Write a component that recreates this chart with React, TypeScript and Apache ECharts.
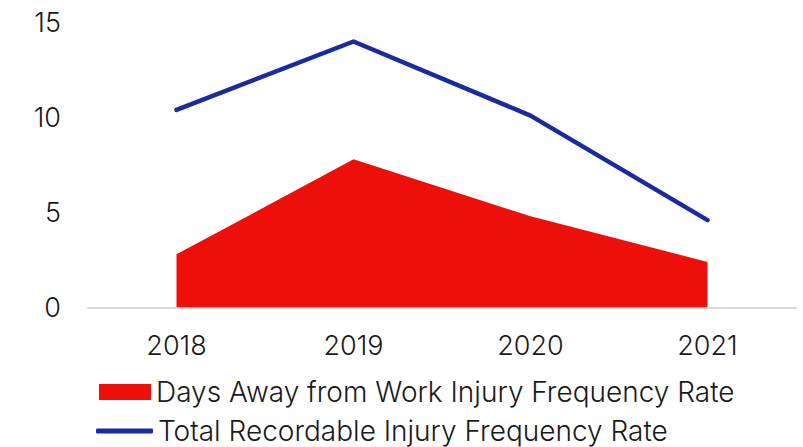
import React, { useEffect, useRef } from "react";
import * as echarts from "echarts";

const years = ["2018", "2019", "2020", "2021"];
const daysAwayRate = [2.8, 7.8, 4.8, 2.4];
const totalRecordableRate = [10.4, 14.0, 10.1, 4.6];
const yTicks = { min: 0, max: 15, interval: 5 };

const RED = "#ee0e0a";
const BLUE = "#1b2a9e";
const FONT = "Inter";
const TEXT = "#1a1a1a";
const FS_LEGEND = 28;
const FS_AXIS = 27;

export default function App() {
  const ref = useRef<HTMLDivElement>(null);
  useEffect(() => {
    if (!ref.current) return;
    const chart = echarts.init(ref.current, undefined, { renderer: "svg" });
    const nameA = "Days Away from Work Injury Frequency Rate";
    const nameB = "Total Recordable Injury Frequency Rate";
    chart.setOption({
      animation: false,
      textStyle: { fontFamily: FONT },
      grid: { left: 88, right: 7, top: 22.5, height: 285, containLabel: false },
      legend: [
        {
          data: [{ name: nameA, icon: "rect" }],
          left: 99,
          top: 378,
          padding: 0,
          itemWidth: 52,
          itemHeight: 16,
          itemGap: 0,
          itemStyle: { borderWidth: 0 },
          textStyle: { fontSize: FS_LEGEND, fontWeight: 300, color: TEXT, fontFamily: FONT },
        },
        {
          data: [{ name: nameB, icon: "roundRect" }],
          left: 96,
          top: 417,
          padding: 0,
          itemWidth: 57,
          itemHeight: 5,
          itemGap: 0,
          itemStyle: { borderWidth: 0 },
          textStyle: { fontSize: FS_LEGEND, fontWeight: 300, color: TEXT, fontFamily: FONT },
        },
      ],
      xAxis: {
        type: "category",
        data: years,
        boundaryGap: true,
        axisTick: { show: false },
        axisLine: { lineStyle: { color: "#d9d9d9", width: 2 } },
        axisLabel: { fontSize: FS_AXIS, fontWeight: 300, color: TEXT, margin: 24, fontFamily: FONT },
      },
      yAxis: {
        type: "value",
        min: yTicks.min,
        max: yTicks.max,
        interval: yTicks.interval,
        splitLine: { show: false },
        axisLine: { show: false },
        axisTick: { show: false },
        axisLabel: { fontSize: FS_AXIS, fontWeight: 300, color: TEXT, margin: 27, fontFamily: FONT },
      },
      series: [
        {
          name: nameA,
          type: "line",
          data: daysAwayRate,
          color: RED,
          showSymbol: false,
          symbol: "none",
          lineStyle: { width: 0 },
          areaStyle: { color: RED, opacity: 1 },
          z: 1,
        },
        {
          name: nameB,
          type: "line",
          data: totalRecordableRate,
          color: BLUE,
          showSymbol: false,
          symbol: "none",
          lineStyle: { width: 4.5, color: BLUE, cap: "round", join: "round" },
          z: 2,
        },
      ],
    });
    return () => chart.dispose();
  }, []);
  return <div ref={ref} style={{ width: 803, height: 447, position: "absolute", left: 0, top: 0 }} />;
}
